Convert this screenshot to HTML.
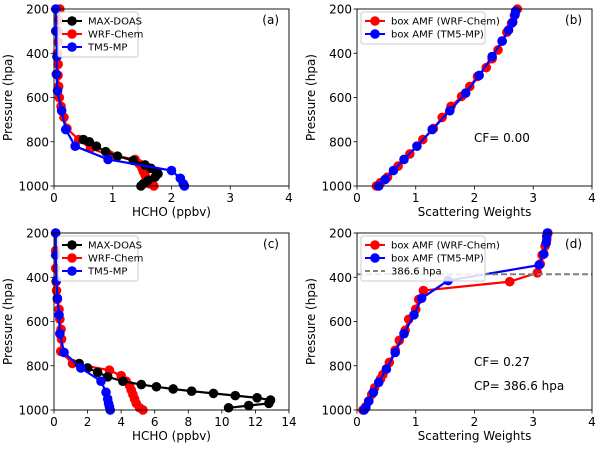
<!DOCTYPE html>
<html><head><meta charset="utf-8"><style>
body{margin:0;background:#fff;width:600px;height:447px;overflow:hidden}
svg{font-family:"DejaVu Sans","Liberation Sans",sans-serif}
</style></head><body>
<svg id="c" width="600" height="447"></svg>
<script>
// ---- data ----
const aDoasP=[790,800,820,845,865,885,905,920,935,945,960,975,990,1000];
const aDoasX=[0.5,0.6,0.72,0.88,1.08,1.35,1.55,1.65,1.75,1.77,1.72,1.6,1.52,1.48];
const aWrfP=[200,250,300,350,400,450,500,550,600,640,690,740,790,830,860,880,900,920,935,950,965,980,990,1000];
const aWrfX=[0.1,0.08,0.07,0.07,0.06,0.07,0.07,0.08,0.09,0.12,0.17,0.22,0.42,0.62,0.95,1.38,1.45,1.5,1.52,1.55,1.57,1.6,1.62,1.7];
const aTmP=[200,300,415,495,570,660,745,820,880,930,965,990,1000];
const aTmX=[0.03,0.03,0.05,0.04,0.06,0.13,0.2,0.36,0.92,2.0,2.15,2.2,2.22];
const cDoasP=[790,810,830,850,870,885,895,905,915,925,935,945,955,970,980,990];
const cDoasX=[1.5,2,2.6,3.2,4.1,5.2,6.1,7.1,8.2,9.5,10.8,12.1,12.9,12.8,11.6,10.4];
const cWrfP=[200,280,360,420,460,500,545,590,635,680,735,790,820,845,870,890,910,930,950,970,990,1000];
const cWrfX=[0.1,0.1,0.1,0.12,0.15,0.2,0.3,0.35,0.42,0.45,0.4,1.1,3.3,4.0,4.3,4.5,4.6,4.7,4.8,4.9,5.1,5.3];
const cTmP=[200,300,415,495,570,655,740,810,870,920,950,970,985,1000];
const cTmX=[0.1,0.1,0.15,0.2,0.3,0.35,0.6,1.6,2.8,3.1,3.2,3.25,3.3,3.35];
const bWrfP=[1000,985,960,910,855,790,740,690,640,595,550,505,465,425,385,345,305,265,230,200];
const bWrfX=[0.33,0.4,0.52,0.7,0.9,1.12,1.3,1.45,1.6,1.78,1.92,2.05,2.2,2.3,2.4,2.47,2.55,2.63,2.68,2.73];
const bTmP=[1000,970,930,880,820,745,660,580,500,415,345,295,260,225,210];
const bTmX=[0.37,0.48,0.62,0.8,1.02,1.28,1.58,1.85,2.08,2.3,2.47,2.58,2.65,2.69,2.7];
const dWrfP=[1000,985,960,930,900,860,840,785,730,685,640,590,545,500,460,420,380,340,300,260,230,200];
const dWrfX=[0.1,0.15,0.2,0.25,0.3,0.4,0.44,0.55,0.65,0.72,0.82,0.88,1.0,1.05,1.13,2.6,3.07,3.12,3.15,3.2,3.23,3.25];
const dTmP=[1000,990,960,920,875,815,740,655,570,495,415,345,295,245,215,200];
const dTmX=[0.12,0.15,0.2,0.28,0.37,0.5,0.65,0.8,0.97,1.1,1.55,3.1,3.18,3.22,3.23,3.24];
const yTicks=[200,400,600,800,1000];
const xTicks4=[0,1,2,3,4];
const xTicks14=[0,2,4,6,8,10,12,14];
const cloudP=386.6;

const NS="http://www.w3.org/2000/svg";
const svg=document.getElementById('c');
function el(t,a,p){const e=document.createElementNS(NS,t);for(const k in a)e.setAttribute(k,a[k]);(p||svg).appendChild(e);return e;}
function txt(s,a,p){const e=el('text',a,p);e.textContent=s;return e;}

function panel(name,x0,x1,y0,y1,xmax,xt,xlabel,tag){
  const g=el('g',{});
  
  
  const sx=v=>x0+(v/xmax)*(x1-x0);
  const sy=p=>y0+(p-200)/800*(y1-y0);
  const clip=el('clipPath',{id:'cl'+tag},g);el('rect',{x:x0-6,y:y0-6,width:x1-x0+12,height:y1-y0+12},clip);
  const plot=el('g',{'clip-path':'url(#cl'+tag+')'},g);
  for(const t of yTicks){
    el('line',{x1:x0-3.5,x2:x0,y1:sy(t),y2:sy(t),stroke:'#000','stroke-width':0.8},g);
    const tl=txt(String(t),{x:x0-5,y:sy(t)+4.5,'text-anchor':'end','font-size':12},g);
    
  }
  for(const t of xt){
    el('line',{x1:sx(t),x2:sx(t),y1:y1,y2:y1+3.5,stroke:'#000','stroke-width':0.8},g);
    const tl=txt(String(t),{x:sx(t),y:y1+16,'text-anchor':'middle','font-size':12},g);
    
  }
  const xl=txt(xlabel,{x:(x0+x1)/2,y:y1+30,'text-anchor':'middle','font-size':12},g);
  
  const yl=txt('Pressure (hpa)',{x:0,y:0,'text-anchor':'middle','font-size':12,transform:`translate(${x0-42},${(y0+y1)/2}) rotate(-90)`},g);
  
  const pl=txt('('+tag+')',{x:x1-10,y:y0+15,'text-anchor':'end','font-size':12},g);
  
  return {g,plot,sx,sy,x0,x1,y0,y1};
}
function series(P,name,ps,xs,color){
  const pts=ps.map((p,i)=>P.sx(xs[i]).toFixed(1)+','+P.sy(p).toFixed(1)).join(' ');
  const s=el('g',{},P.plot);
  
  
  el('polyline',{points:pts,fill:'none',stroke:color,'stroke-width':2.2},s);
  ps.forEach((p,i)=>{const c=el('circle',{cx:P.sx(xs[i]),cy:P.sy(p),r:4.8,fill:color},s);
    });
}
function frame(P){el('rect',{x:P.x0,y:P.y0,width:P.x1-P.x0,height:P.y1-P.y0,fill:'none',stroke:'#000','stroke-width':0.9},P.g);}
function legend(P,x,y,w,items){
  const lg=el('g',{},P.g);
  
  el('rect',{x:x,y:y,width:w,height:items.length*13+6,fill:'#fff','fill-opacity':0.85,stroke:'#ccc',rx:2},lg);
  items.forEach((it,i)=>{
    const yy=y+9+i*13;
    const e=el('g',{},lg);
    
    if(it[2]){el('line',{x1:x+4,x2:x+24,y1:yy,y2:yy,stroke:it[1],'stroke-width':2,'stroke-dasharray':'5,3'},e);}
    else{el('line',{x1:x+4,x2:x+24,y1:yy,y2:yy,stroke:it[1],'stroke-width':2},e);el('circle',{cx:x+14,cy:yy,r:4.8,fill:it[1]},e);}
    txt(it[0],{x:x+30,y:yy+3.5,'font-size':10},e);
  });
}

// (a)
let A=panel('panel-a',54,289,9,186,4,xTicks4,'HCHO (ppbv)','a');
series(A,'wrf-chem-line',aWrfP,aWrfX,'#f00');
series(A,'max-doas-line',aDoasP,aDoasX,'#000');
series(A,'tm5-mp-line',aTmP,aTmX,'#00f');
frame(A);
legend(A,58,12,80,[['MAX-DOAS','#000'],['WRF-Chem','#f00'],['TM5-MP','#00f']]);
// (b)
let B=panel('panel-b',357,592,9,186,4,xTicks4,'Scattering Weights','b');
series(B,'box-amf-wrf-chem',bWrfP,bWrfX,'#f00');
series(B,'box-amf-tm5-mp',bTmP,bTmX,'#00f');
frame(B);
legend(B,361,12,124,[['box AMF (WRF-Chem)','#f00'],['box AMF (TM5-MP)','#00f']]);
txt('CF= 0.00',{x:474,y:142,'font-size':12});
// (c)
let C=panel('panel-c',54,289,233,410,14,xTicks14,'HCHO (ppbv)','c');
series(C,'wrf-chem-line',cWrfP,cWrfX,'#f00');
series(C,'max-doas-line',cDoasP,cDoasX,'#000');
series(C,'tm5-mp-line',cTmP,cTmX,'#00f');
frame(C);
legend(C,58,236,80,[['MAX-DOAS','#000'],['WRF-Chem','#f00'],['TM5-MP','#00f']]);
// (d)
let D=panel('panel-d',357,592,233,410,4,xTicks4,'Scattering Weights','d');
const cl=el('line',{x1:D.x0,x2:D.x1,y1:D.sy(cloudP),y2:D.sy(cloudP),stroke:'#808080','stroke-width':2,'stroke-dasharray':'6,3'},D.g);

series(D,'box-amf-wrf-chem',dWrfP,dWrfX,'#f00');
series(D,'box-amf-tm5-mp',dTmP,dTmX,'#00f');
frame(D);
legend(D,361,236,124,[['box AMF (WRF-Chem)','#f00'],['box AMF (TM5-MP)','#00f'],['386.6 hpa','#808080',true]]);
txt('CF= 0.27',{x:474,y:366,'font-size':12});
txt('CP= 386.6 hpa',{x:474,y:390,'font-size':12});
</script>
</body></html>
